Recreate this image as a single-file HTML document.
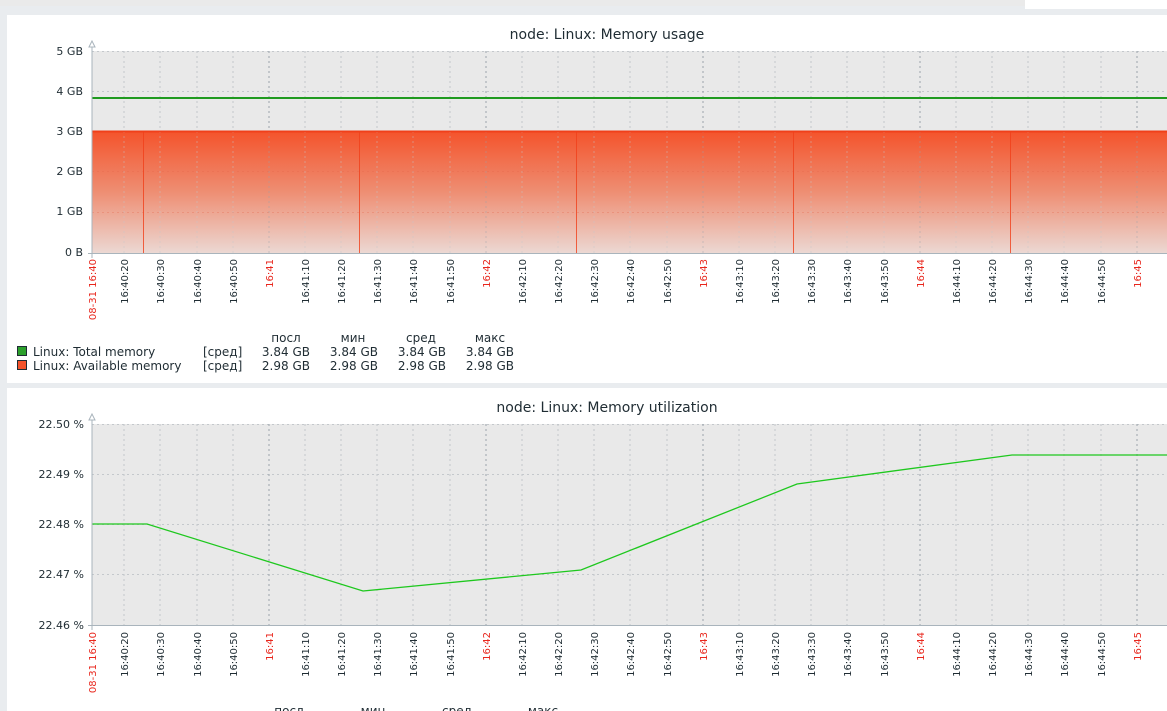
<!DOCTYPE html>
<html><head><meta charset="utf-8"><style>
html,body{margin:0;padding:0;background:#e9ecef;width:1167px;height:711px;overflow:hidden}
svg{display:block;font-family:"DejaVu Sans","Liberation Sans",sans-serif}
</style></head><body>
<svg width="1167" height="711" xmlns="http://www.w3.org/2000/svg">
<defs>
<linearGradient id="g" x1="0" y1="0" x2="0" y2="1"><stop offset="0" stop-color="#f4532b"/><stop offset="0.5" stop-color="#ee8e73"/><stop offset="1" stop-color="#ecd8d3"/></linearGradient>
<g id="vgrid" stroke-dasharray="2,3" stroke-width="1">
<g stroke="#c4c8cc"><line x1="124" x2="124" y1="0" y2="201"/><line x1="160" x2="160" y1="0" y2="201"/><line x1="197" x2="197" y1="0" y2="201"/><line x1="233" x2="233" y1="0" y2="201"/><line x1="305" x2="305" y1="0" y2="201"/><line x1="341" x2="341" y1="0" y2="201"/><line x1="377" x2="377" y1="0" y2="201"/><line x1="413" x2="413" y1="0" y2="201"/><line x1="450" x2="450" y1="0" y2="201"/><line x1="522" x2="522" y1="0" y2="201"/><line x1="558" x2="558" y1="0" y2="201"/><line x1="594" x2="594" y1="0" y2="201"/><line x1="630" x2="630" y1="0" y2="201"/><line x1="667" x2="667" y1="0" y2="201"/><line x1="739" x2="739" y1="0" y2="201"/><line x1="775" x2="775" y1="0" y2="201"/><line x1="811" x2="811" y1="0" y2="201"/><line x1="847" x2="847" y1="0" y2="201"/><line x1="884" x2="884" y1="0" y2="201"/><line x1="956" x2="956" y1="0" y2="201"/><line x1="992" x2="992" y1="0" y2="201"/><line x1="1028" x2="1028" y1="0" y2="201"/><line x1="1064" x2="1064" y1="0" y2="201"/><line x1="1101" x2="1101" y1="0" y2="201"/></g>
<g stroke="#9aa3ab"><line x1="269" x2="269" y1="0" y2="201"/><line x1="486" x2="486" y1="0" y2="201"/><line x1="703" x2="703" y1="0" y2="201"/><line x1="920" x2="920" y1="0" y2="201"/><line x1="1137" x2="1137" y1="0" y2="201"/></g>
</g>
<g id="xl" font-size="10" text-anchor="end" fill="#1f2c33">
<text transform="translate(96,0) rotate(-90)" fill="#e8261c">08-31 16:40</text>
<text transform="translate(128,0) rotate(-90)">16:40:20</text>
<text transform="translate(164,0) rotate(-90)">16:40:30</text>
<text transform="translate(201,0) rotate(-90)">16:40:40</text>
<text transform="translate(237,0) rotate(-90)">16:40:50</text>
<text transform="translate(273,0) rotate(-90)" fill="#e8261c">16:41</text>
<text transform="translate(309,0) rotate(-90)">16:41:10</text>
<text transform="translate(345,0) rotate(-90)">16:41:20</text>
<text transform="translate(381,0) rotate(-90)">16:41:30</text>
<text transform="translate(417,0) rotate(-90)">16:41:40</text>
<text transform="translate(454,0) rotate(-90)">16:41:50</text>
<text transform="translate(490,0) rotate(-90)" fill="#e8261c">16:42</text>
<text transform="translate(526,0) rotate(-90)">16:42:10</text>
<text transform="translate(562,0) rotate(-90)">16:42:20</text>
<text transform="translate(598,0) rotate(-90)">16:42:30</text>
<text transform="translate(634,0) rotate(-90)">16:42:40</text>
<text transform="translate(671,0) rotate(-90)">16:42:50</text>
<text transform="translate(707,0) rotate(-90)" fill="#e8261c">16:43</text>
<text transform="translate(743,0) rotate(-90)">16:43:10</text>
<text transform="translate(779,0) rotate(-90)">16:43:20</text>
<text transform="translate(815,0) rotate(-90)">16:43:30</text>
<text transform="translate(851,0) rotate(-90)">16:43:40</text>
<text transform="translate(888,0) rotate(-90)">16:43:50</text>
<text transform="translate(924,0) rotate(-90)" fill="#e8261c">16:44</text>
<text transform="translate(960,0) rotate(-90)">16:44:10</text>
<text transform="translate(996,0) rotate(-90)">16:44:20</text>
<text transform="translate(1032,0) rotate(-90)">16:44:30</text>
<text transform="translate(1068,0) rotate(-90)">16:44:40</text>
<text transform="translate(1105,0) rotate(-90)">16:44:50</text>
<text transform="translate(1141,0) rotate(-90)" fill="#e8261c">16:45</text>
</g>
</defs>
<rect x="0" y="0" width="1025" height="6" fill="#eaeaea"/>
<rect x="1025" y="0" width="142" height="9" fill="#fff"/>
<!-- panel 1 -->
<rect x="7" y="15" width="1160" height="368" fill="#fff"/>
<text x="607" y="39" font-size="14" text-anchor="middle" fill="#1f2c33">node: Linux: Memory usage</text>
<rect x="92" y="51" width="1075" height="202" fill="#e9e9e9"/>
<g stroke="#c4c8cc" stroke-dasharray="2,3"><line x1="92" x2="1167" y1="51.5" y2="51.5"/><line x1="92" x2="1167" y1="91.5" y2="91.5"/></g>
<svg x="0" y="51" width="1167" height="80" overflow="hidden"><use href="#vgrid"/></svg>
<rect x="92" y="131" width="1075" height="122" fill="url(#g)"/>
<g stroke="#e5634a" stroke-opacity="0.3" stroke-dasharray="2,3">
<line x1="92" x2="1167" y1="171.5" y2="171.5"/><line x1="92" x2="1167" y1="212.5" y2="212.5"/>
</g>
<svg x="0" y="131" width="1167" height="122" overflow="hidden" opacity="0.45"><use href="#vgrid" style="filter:none"/></svg>
<g stroke="#f0401a" stroke-width="1" stroke-opacity="0.8"><line x1="143.5" x2="143.5" y1="131" y2="253"/><line x1="359.5" x2="359.5" y1="131" y2="253"/><line x1="576.5" x2="576.5" y1="131" y2="253"/><line x1="793.5" x2="793.5" y1="131" y2="253"/><line x1="1010.5" x2="1010.5" y1="131" y2="253"/></g>
<line x1="92" x2="1167" y1="131.5" y2="131.5" stroke="#f0401a" stroke-width="2"/>
<line x1="92" x2="1167" y1="98" y2="98" stroke="#1f9a1f" stroke-width="2"/>
<g stroke="#a9b4bc"><line x1="92" x2="92" y1="44" y2="258"/><line x1="88" x2="1167" y1="253.5" y2="253.5"/></g>
<path d="M89 47 L92 41 L95 47 Z" fill="#fff" stroke="#a9b4bc"/>
<g font-size="11" text-anchor="end" fill="#1f2c33"><text x="83" y="55">5 GB</text><text x="83" y="95">4 GB</text><text x="83" y="135">3 GB</text><text x="83" y="175">2 GB</text><text x="83" y="215">1 GB</text><text x="83" y="256">0 B</text></g>
<use href="#xl" transform="translate(0,259)"/>
<g font-size="12" fill="#1f2c33">
<text x="286" y="342" text-anchor="middle">посл</text><text x="353" y="342" text-anchor="middle">мин</text><text x="421" y="342" text-anchor="middle">сред</text><text x="490" y="342" text-anchor="middle">макс</text>
<rect x="17.5" y="346.5" width="9" height="9" fill="#2ca02c" stroke="#1f2c33"/>
<rect x="17.5" y="360.5" width="9" height="9" fill="#f4532b" stroke="#1f2c33"/>
<text x="33" y="356">Linux: Total memory</text><text x="33" y="370">Linux: Available memory</text>
<text x="203" y="356">[сред]</text><text x="203" y="370">[сред]</text>
<g text-anchor="end"><text x="310" y="356">3.84 GB</text><text x="378" y="356">3.84 GB</text><text x="446" y="356">3.84 GB</text><text x="514" y="356">3.84 GB</text>
<text x="310" y="370">2.98 GB</text><text x="378" y="370">2.98 GB</text><text x="446" y="370">2.98 GB</text><text x="514" y="370">2.98 GB</text></g>
</g>
<!-- panel 2 -->
<rect x="7" y="388" width="1160" height="323" fill="#fff"/>
<text x="607" y="412" font-size="14" text-anchor="middle" fill="#1f2c33">node: Linux: Memory utilization</text>
<rect x="92" y="424" width="1075" height="201" fill="#e9e9e9"/>
<g stroke="#c4c8cc" stroke-dasharray="2,3"><line x1="92" x2="1167" y1="424.5" y2="424.5"/><line x1="92" x2="1167" y1="474.5" y2="474.5"/><line x1="92" x2="1167" y1="524.5" y2="524.5"/><line x1="92" x2="1167" y1="574.5" y2="574.5"/></g>
<svg x="0" y="424" width="1167" height="201" overflow="hidden"><use href="#vgrid"/></svg>
<polyline points="92,524 147,524 363,591 581,570 797,484 1012,455 1167,455" fill="none" stroke="#1ec81e" stroke-width="1.3"/>
<g stroke="#a9b4bc"><line x1="92" x2="92" y1="417" y2="630"/><line x1="88" x2="1167" y1="625.5" y2="625.5"/></g>
<path d="M89 420 L92 414 L95 420 Z" fill="#fff" stroke="#a9b4bc"/>
<g font-size="11" text-anchor="end" fill="#1f2c33"><text x="84" y="428">22.50 %</text><text x="84" y="478">22.49 %</text><text x="84" y="528">22.48 %</text><text x="84" y="578">22.47 %</text><text x="84" y="629">22.46 %</text></g>
<use href="#xl" transform="translate(0,632)"/>
<g font-size="12" fill="#1f2c33" text-anchor="middle"><text x="289" y="715">посл</text><text x="373" y="715">мин</text><text x="457" y="715">сред</text><text x="543" y="715">макс</text></g>
</svg>
</body></html>
